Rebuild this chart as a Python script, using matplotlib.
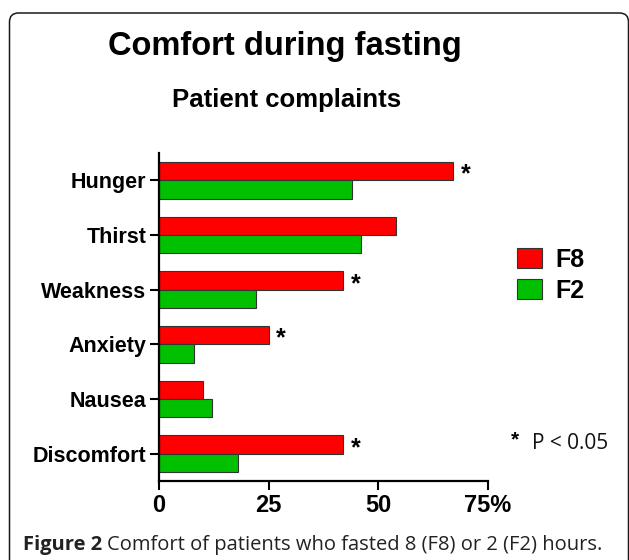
import matplotlib
matplotlib.use("Agg")
import matplotlib.pyplot as plt
import numpy as np
from matplotlib.patches import FancyBboxPatch
from matplotlib.transforms import IdentityTransform

# ---- data ----
categories = ["Hunger", "Thirst", "Weakness", "Anxiety", "Nausea", "Discomfort"]
f8_values = [67, 54, 42, 25, 10, 42]
f2_values = [44, 46, 22, 8, 12, 18]
significant = [True, False, True, True, False, True]
series_labels = ["F8", "F2"]
x_ticks = [0, 25, 50, 75]
x_tick_labels = ["0", "25", "50", "75%"]
title = "Comfort during fasting"
subtitle = "Patient complaints"
caption_bold = "Figure 2"
caption_rest = "Comfort of patients who fasted 8 (F8) or 2 (F2) hours."
sig_note = "P < 0.05"

W, H = 629, 560
DPI = 100
fig = plt.figure(figsize=(W / DPI, H / DPI), dpi=DPI)
ident = IdentityTransform()

def px(x, y):
    # convert image pixel (top-left origin) to display coords
    return x, H - y

ARIAL = "Liberation Sans"
CAP = "Open Sans"

# axes
left, right, top, bottom = 159, 488, 153, 481
ax = fig.add_axes([left / W, (H - bottom) / H, (right - left) / W, (bottom - top) / H])

y = np.arange(len(categories))
bh = 0.335
red = "#ff0000"
green = "#00c000"
ax.barh(y - bh / 2, f8_values, height=bh, color=red, edgecolor="#333333", linewidth=0.8, label=series_labels[0])
ax.barh(y + bh / 2, f2_values, height=bh, color=green, edgecolor="#333333", linewidth=0.8, label=series_labels[1])

ax.set_xlim(0, 75)
ax.set_ylim(len(categories) - 0.5, -0.5)
ax.set_xticks(x_ticks)
ax.set_xticklabels(x_tick_labels, fontfamily=ARIAL, fontweight="bold", fontsize=17)
ax.set_yticks(y)
ax.set_yticklabels(categories, fontfamily=ARIAL, fontweight="bold", fontsize=15.5)
for s in ["top", "right"]:
    ax.spines[s].set_visible(False)
for s in ["left", "bottom"]:
    ax.spines[s].set_linewidth(1.6)
    ax.spines[s].set_color("black")
ax.tick_params(axis="both", length=6.5, width=1.5, color="black")
ax.tick_params(axis="y", pad=2.5)
ax.tick_params(axis="x", pad=3)

# significance asterisks
for yi, v, sig in zip(y, f8_values, significant):
    if sig:
        ax.annotate("*", xy=(v, yi - bh / 2), xytext=(5.5, -7.5), textcoords="offset points",
                    fontfamily=ARIAL, fontweight="bold", fontsize=18, ha="left", va="baseline")

# legend
leg = ax.legend(loc="upper left", bbox_to_anchor=px(517, 248), bbox_transform=ident,
                frameon=False, handlelength=1.0, handleheight=0.84,
                handletextpad=0.55, labelspacing=0.26, borderpad=0, borderaxespad=0,
                prop={"family": ARIAL, "weight": "bold", "size": 18})

# titles
fig.text(*px(285, 55), title, transform=ident, ha="center", va="baseline",
         fontfamily=ARIAL, fontweight="bold", fontsize=23.5)
fig.text(*px(287, 107), subtitle, transform=ident, ha="center", va="baseline",
         fontfamily=ARIAL, fontweight="bold", fontsize=18.5)

# significance note
fig.text(*px(511, 445), "*", transform=ident, ha="left", va="baseline",
         fontfamily=ARIAL, fontweight="bold", fontsize=15)
fig.text(*px(532, 449), sig_note, transform=ident, ha="left", va="baseline",
         fontfamily=CAP, fontsize=15, color="#111111")

# caption
renderer = fig.canvas.get_renderer()
cap_size = 14.5
t1 = fig.text(*px(23, 550), caption_bold, transform=ident, ha="left", va="baseline",
              fontfamily=CAP, fontweight="bold", fontsize=cap_size, color="#222222")
bb = t1.get_window_extent(renderer)
space = cap_size * DPI / 72 * 0.26
t2 = fig.text(bb.x1 + space, H - 550, caption_rest, transform=ident, ha="left", va="baseline",
              fontfamily=CAP, fontsize=cap_size, color="#222222")

# frame
frame = FancyBboxPatch((9.5, -30), 619, H - 13 + 30, boxstyle="round,pad=0,rounding_size=9",
                       transform=ident, fill=False, edgecolor="#1a1a1a", linewidth=1.1)
fig.patches.append(frame)

fig.savefig("out.png", dpi=DPI)
